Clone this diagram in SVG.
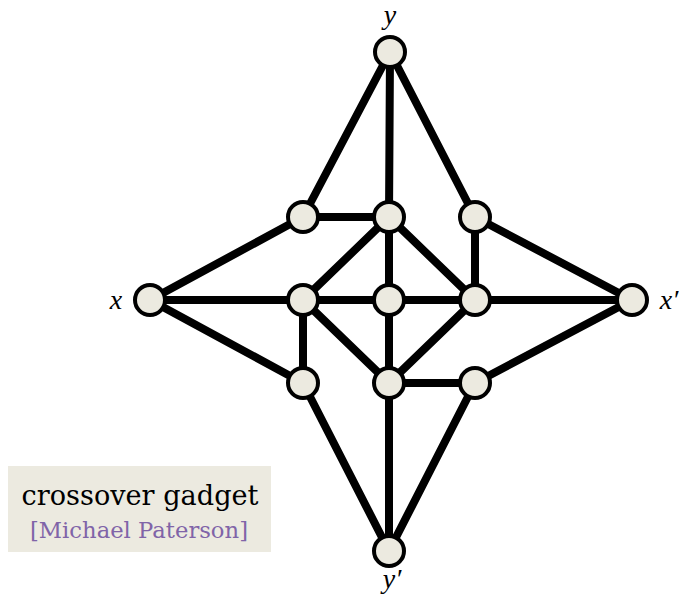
<svg xmlns="http://www.w3.org/2000/svg" width="679" height="595" viewBox="0 0 679 595">
<style>
.e{stroke:#000;stroke-width:8;stroke-linecap:round;fill:none}
.n{fill:#ECEAE0;stroke:#000;stroke-width:4}
.lbl{font-family:"Liberation Serif",serif;font-style:italic;font-size:28px;fill:#000;text-anchor:middle}
</style>
<rect x="8" y="466" width="263" height="86" fill="#ECEAE0"/>
<text x="140" y="505" font-family="DejaVu Serif, serif" font-size="27" text-anchor="middle" fill="#000" textLength="237" lengthAdjust="spacingAndGlyphs">crossover gadget</text>
<text x="139" y="538" font-family="DejaVu Serif, serif" font-size="23" text-anchor="middle" fill="#8064A8" textLength="218" lengthAdjust="spacingAndGlyphs">[Michael Paterson]</text>
<g id="connectors">
<line class="e" x1="390" y1="52" x2="303" y2="217"/>
<line class="e" x1="390" y1="52" x2="389" y2="217"/>
<line class="e" x1="390" y1="52" x2="475" y2="217"/>
<line class="e" x1="303" y1="217" x2="389" y2="217"/>
<line class="e" x1="303" y1="217" x2="150" y2="300"/>
<line class="e" x1="475" y1="217" x2="475" y2="300"/>
<line class="e" x1="475" y1="217" x2="632" y2="300"/>
<line class="e" x1="150" y1="300" x2="632" y2="300"/>
<line class="e" x1="150" y1="300" x2="303" y2="383"/>
<line class="e" x1="303" y1="300" x2="303" y2="383"/>
<line class="e" x1="389" y1="217" x2="389" y2="551"/>
<line class="e" x1="389" y1="217" x2="303" y2="300"/>
<line class="e" x1="389" y1="217" x2="475" y2="300"/>
<line class="e" x1="303" y1="300" x2="389" y2="383"/>
<line class="e" x1="475" y1="300" x2="389" y2="383"/>
<line class="e" x1="389" y1="383" x2="475" y2="383"/>
<line class="e" x1="475" y1="383" x2="632" y2="300"/>
<line class="e" x1="303" y1="383" x2="389" y2="551"/>
<line class="e" x1="475" y1="383" x2="389" y2="551"/>
</g>
<g id="y"><circle class="n" cx="390" cy="52" r="15"/><text class="lbl" x="390" y="24">y</text></g>
<g id="yp"><circle class="n" cx="389" cy="551" r="15"/><text class="lbl" x="392" y="588">y′</text></g>
<g id="x"><circle class="n" cx="150" cy="300" r="15"/><text class="lbl" x="116" y="309">x</text></g>
<g id="xp"><circle class="n" cx="632" cy="300" r="15"/><text class="lbl" x="669" y="309">x′</text></g>
<g id="a1"><circle class="n" cx="303" cy="217" r="15"/></g>
<g id="a2"><circle class="n" cx="389" cy="217" r="15"/></g>
<g id="a3"><circle class="n" cx="475" cy="217" r="15"/></g>
<g id="b1"><circle class="n" cx="303" cy="300" r="15"/></g>
<g id="b2"><circle class="n" cx="389" cy="300" r="15"/></g>
<g id="b3"><circle class="n" cx="475" cy="300" r="15"/></g>
<g id="c1"><circle class="n" cx="303" cy="383" r="15"/></g>
<g id="c2"><circle class="n" cx="389" cy="383" r="15"/></g>
<g id="c3"><circle class="n" cx="475" cy="383" r="15"/></g>
</svg>
